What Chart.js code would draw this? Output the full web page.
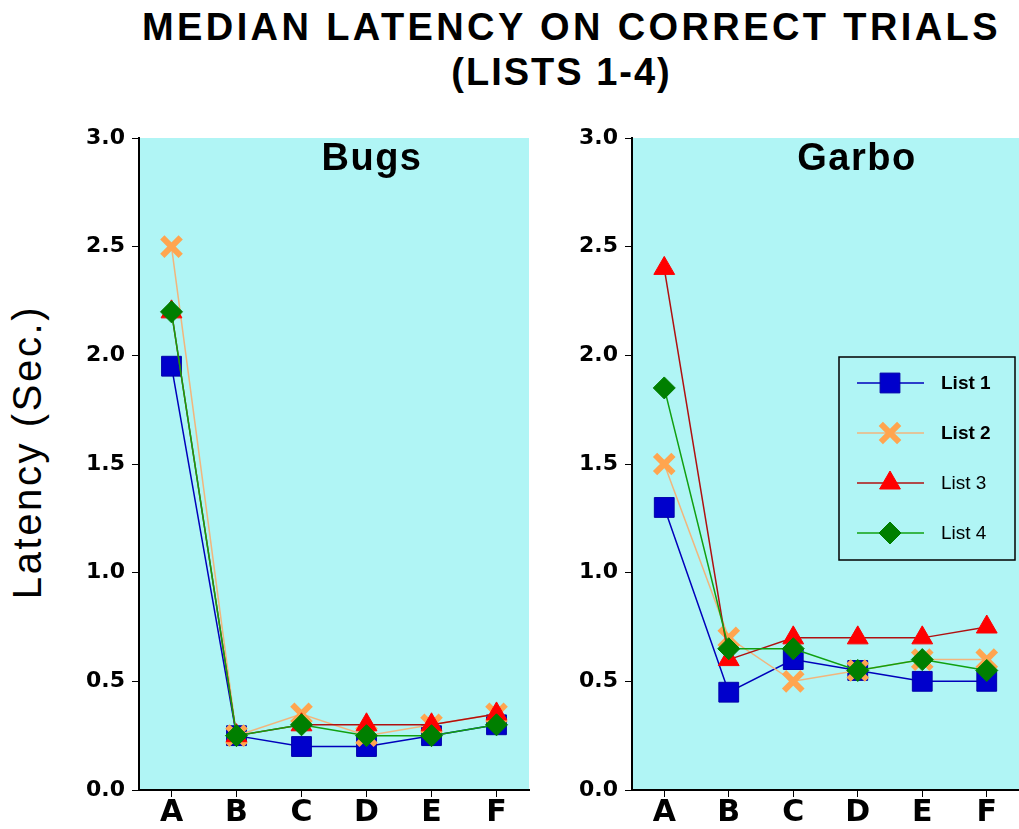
<!DOCTYPE html>
<html>
<head>
<meta charset="utf-8">
<script src="https://cdn.jsdelivr.net/npm/chart.js@4/dist/chart.umd.min.js"></script>
<style>
  body { margin: 0; background: #fff; width: 1019px; height: 829px; overflow: hidden; position: relative; font-family: 'Liberation Sans', Arial, sans-serif; }
  .title { position: absolute; left: 0; width: 1019px; text-align: center; font-weight: bold; font-size: 38px; color: #000; line-height: 44px; }
  #t1 { top: 5px; left: 62px; letter-spacing: 3.4px; }
  #t2 { top: 50px; left: 52px; letter-spacing: 2px; }
  #ylabel { position: absolute; left: 27px; top: 452px; transform: translate(-50%, -50%) rotate(-90deg); font-size: 40px; letter-spacing: 2.6px; white-space: nowrap; color: #000; }
  #left { position: absolute; left: 0; top: 0; }
  #right { position: absolute; left: 540px; top: 0; }
</style>
</head>
<body>
<div class="title" id="t1">MEDIAN LATENCY ON CORRECT TRIALS</div>
<div class="title" id="t2">(LISTS 1-4)</div>
<div id="ylabel">Latency (Sec.)</div>
<canvas id="left" width="540" height="829"></canvas>
<canvas id="right" width="479" height="829"></canvas>
<script>
// données
const categories = ['A', 'B', 'C', 'D', 'E', 'F'];
const seriesNames = ['List 1', 'List 2', 'List 3', 'List 4'];

const bugsList1 = [1.95, 0.25, 0.2, 0.2, 0.25, 0.3];
const bugsList2 = [2.5, 0.25, 0.35, 0.25, 0.3, 0.35];
const bugsList3 = [2.2, 0.25, 0.3, 0.3, 0.3, 0.35];
const bugsList4 = [2.2, 0.25, 0.3, 0.25, 0.25, 0.3];

const garboList1 = [1.3, 0.45, 0.6, 0.55, 0.5, 0.5];
const garboList2 = [1.5, 0.7, 0.5, 0.55, 0.6, 0.6];
const garboList3 = [2.4, 0.6, 0.7, 0.7, 0.7, 0.75];
const garboList4 = [1.85, 0.65, 0.65, 0.55, 0.6, 0.55];

const yTicks = [0, 0.5, 1, 1.5, 2, 2.5, 3];

const FONT = "'Liberation Sans', Arial, sans-serif";
const TICKFONT = "'DejaVu Sans', sans-serif";
const CYAN = '#b0f5f5';

// style des séries
const styles = [
  { line: '#0000bb', fill: '#0000cc', border: '#0000aa', shape: 'rect', radius: 14, bw: 1 },
  { line: '#f2b57c', fill: '#ffa54f', border: '#ffa54f', shape: 'crossRot', radius: 13, bw: 6 },
  { line: '#b01010', fill: '#ff0000', border: '#ff0000', shape: 'triangle', radius: 12, bw: 1 },
  { line: '#10a010', fill: '#007f00', border: '#007f00', shape: 'rectRot', radius: 11, bw: 1 }
];

function makeDatasets(values) {
  return values.map((v, i) => ({
    label: seriesNames[i],
    data: v,
    borderColor: styles[i].line,
    borderWidth: 1.5,
    pointStyle: styles[i].shape,
    pointRadius: styles[i].radius,
    pointBackgroundColor: styles[i].fill,
    pointBorderColor: styles[i].border,
    pointBorderWidth: styles[i].bw,
    order: 4 - i, // List 4 au-dessus
    clip: false,
    tension: 0
  }));
}

// fond cyan de la zone de tracé
const areaBg = {
  id: 'areaBg',
  beforeDraw(chart) {
    const a = chart.chartArea;
    const ctx = chart.ctx;
    ctx.save();
    ctx.fillStyle = CYAN;
    ctx.fillRect(a.left, a.top, a.right - a.left, a.bottom - a.top);
    ctx.restore();
  }
};

// titre du panneau dans la zone
const panelTitle = {
  id: 'panelTitle',
  afterDraw(chart, args, opts) {
    const a = chart.chartArea;
    const ctx = chart.ctx;
    ctx.save();
    ctx.font = 'bold 38px ' + FONT;
    ctx.letterSpacing = '1.5px';
    ctx.fillStyle = '#000';
    ctx.textAlign = 'center';
    ctx.textBaseline = 'middle';
    ctx.fillText(opts.text, a.left + opts.dx, a.top + 22);
    ctx.restore();
  }
};

// légende encadrée (List 1 et 2 en gras)
const boxLegend = {
  id: 'boxLegend',
  afterDraw(chart, args, opts) {
    if (!opts.show) return;
    const a = chart.chartArea;
    const ctx = chart.ctx;
    const x0 = a.left + 207, y0 = a.top + 219, w = 176, h = 203;
    ctx.save();
    ctx.fillStyle = CYAN;
    ctx.fillRect(x0, y0, w, h);
    ctx.strokeStyle = '#000';
    ctx.lineWidth = 1.5;
    ctx.strokeRect(x0, y0, w, h);
    chart.data.datasets.forEach((ds, i) => {
      const y = y0 + 26 + i * 50;
      ctx.strokeStyle = ds.borderColor;
      ctx.lineWidth = 1.5;
      ctx.beginPath();
      ctx.moveTo(x0 + 18, y);
      ctx.lineTo(x0 + 85, y);
      ctx.stroke();
      ctx.fillStyle = ds.pointBackgroundColor;
      ctx.strokeStyle = ds.pointBorderColor;
      ctx.lineWidth = ds.pointBorderWidth;
      Chart.helpers.drawPoint(ctx, { pointStyle: ds.pointStyle, radius: ds.pointRadius, borderWidth: ds.pointBorderWidth, rotation: 0 }, x0 + 51, y);
      ctx.fillStyle = '#000';
      ctx.font = (i < 2 ? 'bold ' : '') + '19px ' + FONT;
      ctx.textAlign = 'left';
      ctx.textBaseline = 'middle';
      ctx.fillText(ds.label, x0 + 102, y + 1);
    });
    ctx.restore();
  }
};

function makeChart(id, values, title, dx, yWidth, padRight, showLegend) {
  return new Chart(document.getElementById(id), {
    type: 'line',
    data: { labels: categories, datasets: makeDatasets(values) },
    plugins: [areaBg, panelTitle, boxLegend],
    options: {
      responsive: false,
      animation: false,
      layout: { autoPadding: false, padding: { top: 138, right: padRight, left: 0, bottom: 0 } },
      plugins: {
        legend: { display: false },
        tooltip: { enabled: false },
        panelTitle: { text: title, dx: dx },
        boxLegend: { show: showLegend }
      },
      scales: {
        x: {
          offset: true,
          afterFit(scale) {
            scale.height = 39;
            scale.paddingLeft = 0;
            scale.paddingRight = 0;
          },
          grid: { display: true, drawOnChartArea: false, drawTicks: true, tickLength: 7, color: '#000', offset: false },
          border: { display: true, color: '#000', width: 2 },
          ticks: { color: '#000', padding: -2, maxRotation: 0, font: { family: TICKFONT, size: 30, weight: 'bold' } }
        },
        y: {
          min: 0,
          max: 3,
          afterFit(scale) {
            scale.width = yWidth;
            scale.paddingTop = 0;
            scale.paddingBottom = 0;
          },
          afterBuildTicks(scale) { scale.ticks = yTicks.map(v => ({ value: v })); },
          grid: { display: true, drawOnChartArea: false, drawTicks: true, tickLength: 7, color: '#000' },
          border: { display: true, color: '#000', width: 2 },
          ticks: {
            color: '#000',
            padding: 7,
            font: { family: TICKFONT, size: 22, weight: 'bold' },
            callback: v => Number(v).toFixed(1)
          }
        }
      }
    }
  });
}

makeChart('left', [bugsList1, bugsList2, bugsList3, bugsList4], 'Bugs', 233, 139, 11, false);
makeChart('right', [garboList1, garboList2, garboList3, garboList4], 'Garbo', 225, 92, 0, true);
</script>
</body>
</html>
